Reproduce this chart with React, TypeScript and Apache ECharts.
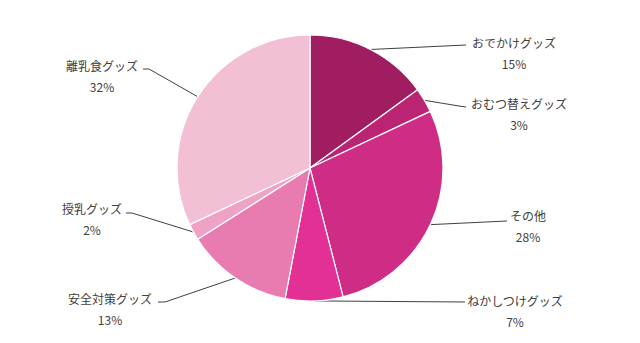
import React, { useEffect, useRef } from "react";
import * as echarts from "echarts";

const categories = [
  "おでかけグッズ",
  "おむつ替えグッズ",
  "その他",
  "ねかしつけグッズ",
  "安全対策グッズ",
  "授乳グッズ",
  "離乳食グッズ",
];
const values = [15, 3, 28, 7, 13, 2, 32];
const colors = ["#A01D62", "#BA2473", "#CF2C85", "#E23095", "#E87CB0", "#EEA3C6", "#F2BFD4"];

// label placement (center x / top y of the label box, leader-line end points)
const labelSpots = [
  { x: 514, y: 31.5, line: [[466, 45], [466, 45]] },
  { x: 519, y: 92.5, line: [[459, 106], [466, 107]] },
  { x: 528, y: 204.5, line: [[507, 221], [507, 221]] },
  { x: 515, y: 289.5, line: [[465, 302], [465, 302]] },
  { x: 110, y: 287.5, line: [[165, 302], [158, 302]] },
  { x: 92, y: 197.5, line: [[132, 213], [126, 213]] },
  { x: 102, y: 54.5, line: [[149, 69], [143, 69]] },
];

export default function App() {
  const ref = useRef<HTMLDivElement>(null);
  useEffect(() => {
    if (!ref.current) return;
    const chart = echarts.init(ref.current, undefined, { renderer: "svg" });
    chart.setOption({
      animation: false,
      color: colors,
      series: [
        {
          type: "pie",
          center: [310, 168],
          radius: 133,
          startAngle: 90,
          clockwise: true,
          avoidLabelOverlap: false,
          itemStyle: { borderColor: "#ffffff", borderWidth: 1.2 },
          label: {
            show: true,
            position: "outside",
            color: "#404040",
            fontSize: 12,
            lineHeight: 21,
            fontFamily: "'Noto Sans CJK JP', 'Noto Sans', sans-serif",
            align: "center",
            formatter: (p: any) => `${p.name}\n${Math.round(p.percent)}%`,
          },
          labelLine: {
            show: true,
            length: 20,
            length2: 20,
            lineStyle: { color: "#404040", width: 1 },
          },
          labelLayout: (params: any) => {
            const s = labelSpots[params.dataIndex];
            const pts = params.labelLinePoints;
            const p0 = pts && pts[0] ? [pts[0][0], pts[0][1]] : s.line[0];
            return {
              x: s.x,
              y: s.y,
              align: "center",
              verticalAlign: "top",
              labelLinePoints: [p0, s.line[0], s.line[1]],
            };
          },
          data: categories.map((name, i) => ({ name, value: values[i] })),
        },
      ],
    });
    return () => chart.dispose();
  }, []);
  return (
    <div
      ref={ref}
      style={{ position: "fixed", left: 0, top: 0, width: 640, height: 343, background: "#fff" }}
    />
  );
}
